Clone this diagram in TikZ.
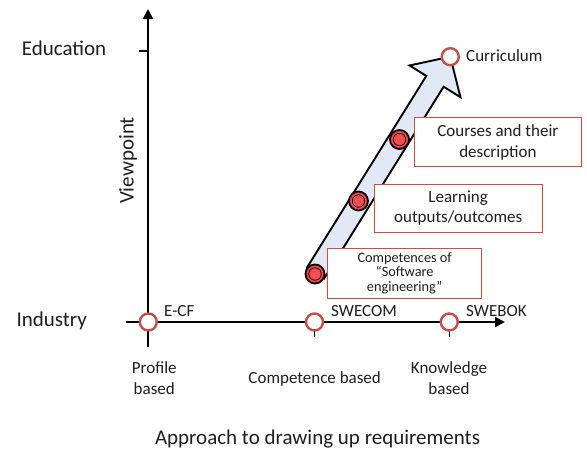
\documentclass[tikz,border=0pt]{standalone}
\usepackage{fontspec}
\setmainfont{Carlito}
\usetikzlibrary{calc,arrows.meta}

\definecolor{axisred}{RGB}{192,80,77}
\definecolor{boxred}{RGB}{212,72,72}
\definecolor{dotred}{RGB}{246,78,78}
\definecolor{shaftblue}{RGB}{225,233,246}
\definecolor{ink}{RGB}{30,30,30}

% centred multi-line text whose reference point is the first baseline
\newcommand{\stk}[1]{\begin{tabular}[t]{@{}c@{}}#1\end{tabular}}

\begin{document}
\begin{tikzpicture}[x=1pt,y=-1pt,
  axis/.style={line width=2.2pt, -{Triangle[length=10pt,width=10pt]}},
  tickmark/.style={line width=1.6pt},
  milestone/.style={circle, draw=axisred, fill=white, line width=2.4pt,
                    minimum size=17pt, inner sep=0pt},
  stage/.style={circle, draw=black, fill=dotred, line width=1.8pt,
                minimum size=19pt, inner sep=0pt},
  stagecore/.style={circle, draw=black, fill=dotred, line width=0.7pt,
                    minimum size=12.5pt, inner sep=0pt},
  stagebox/.style={draw=boxred, fill=white, line width=1.1pt, inner sep=0pt,
                   text=ink, align=center},
  big/.style={font=\fontsize{21}{25}\selectfont, text=ink, inner sep=0pt},
  mid/.style={font=\fontsize{17}{21}\selectfont, text=ink, inner sep=0pt},
]
\path[use as bounding box] (0,0) rectangle (587,448);

% ---- axes ----
\coordinate (ybot) at (148,346.7);
\coordinate (ytop) at (148,9);
\coordinate (xbeg) at (126,322);
\coordinate (xend) at (505,322);
\coordinate (eduTick) at (139,51);
\coordinate (eduAxis) at (148,51);
\draw[axis] (ybot) -- (ytop);
\draw[axis] (xbeg) -- (xend);
\draw[tickmark] (eduTick) -- (eduAxis);

\coordinate (pECF) at (148.3,322);
\coordinate (pSWECOM) at (314.5,322);
\coordinate (pSWEBOK) at (449.3,322);
\draw[tickmark] (pSWECOM) -- ++(0,15);
\draw[tickmark] (pSWEBOK) -- ++(0,15);

\node[milestone] (ecf) at (pECF) {};
\node[milestone] (swecom) at (pSWECOM) {};
\node[milestone] (swebok) at (pSWEBOK) {};

% ---- axis labels ----
\node[big, anchor=base] (edu) at (64,55) {Education};
\node[big, anchor=base] (ind) at (51.7,326.7) {Industry};
\node[big, rotate=90, anchor=base] (view) at (133.5,160.5) {Viewpoint};
\node[big, anchor=base] (appr) at (317.5,444) {Approach to drawing up requirements};

\node[mid, anchor=base west] (lecf) at (164,316) {E-CF};
\node[mid, anchor=base west] (lswecom) at (331,316.7) {SWECOM};
\node[mid, anchor=base west] (lswebok) at (466,316.7) {SWEBOK};

\node[mid, anchor=base] (prof) at (154.3,373.3) {\stk{Profile\\based}};
\node[mid, anchor=base] (comp) at (314.7,383.3) {Competence based};
\node[mid, anchor=base] (know) at (449,373.3) {\stk{Knowledge\\based}};

% ---- block arrow from competences up to the curriculum ----
\coordinate (S) at (315,274);
\coordinate (T) at (450.3,56.7);
\coordinate (B) at ($(S)!1pt!(T)$);
\coordinate (N) at ($(T)!29pt!(S)$);
\draw[line width=1.9pt, fill=shaftblue, line join=miter]
  ($(B)!10.2pt!90:(T)$) -- ($(N)!10.2pt!90:(T)$) -- ($(N)!30pt!90:(T)$)
  -- (T) -- ($(N)!30pt!-90:(T)$) -- ($(N)!10.2pt!-90:(T)$)
  -- ($(B)!10.2pt!-90:(T)$) -- cycle;

% ---- stage boxes ----
\node[stagebox, minimum width=167.7pt, minimum height=49pt,
      font=\fontsize{17}{21}\selectfont] (courses) at (497.9,142.2)
      {Courses and their\\description};
\node[stagebox, minimum width=168.3pt, minimum height=48.4pt,
      font=\fontsize{17}{20}\selectfont] (learning) at (458.2,208.5)
      {Learning\\outputs/outcomes};
\node[stagebox, minimum width=154pt, minimum height=50pt,
      font=\fontsize{14.3}{14.5}\selectfont] (competences) at (404.7,273.3)
      {Competences of\\“Software\\engineering”};

% ---- stage dots on the arrow ----
\node[stage] (dComp) at (S) {};
\node[stagecore] at (dComp) {};
\node[stage] (dLearn) at (358.5,201) {};
\node[stagecore] at (dLearn) {};
\node[stage] (dCourse) at (399.5,139.5) {};
\node[stagecore] at (dCourse) {};

\node[milestone] (curr) at (T) {};
\node[mid, anchor=base west] (lcurr) at (466,61.7) {Curriculum};
\end{tikzpicture}
\end{document}
